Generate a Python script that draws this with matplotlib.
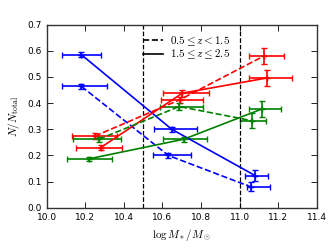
import numpy as np
import matplotlib.pyplot as plt

plt.rcParams["mathtext.fontset"] = "cm"
plt.rcParams["font.size"] = 6.5
plt.rcParams["xtick.direction"] = "in"
plt.rcParams["ytick.direction"] = "in"
plt.rcParams["xtick.top"] = True
plt.rcParams["ytick.right"] = True

# low-z sample (dashed) and high-z sample (solid)
blue_lo_x = [10.18, 10.63, 11.057]
blue_lo_y = [0.464, 0.200, 0.080]
blue_lo_xl = [0.10, 0.08, 0.021]
blue_lo_xh = [0.13, 0.12, 0.10]
blue_lo_ye = [0.010, 0.010, 0.018]

blue_hi_x = [10.18, 10.648, 11.08]
blue_hi_y = [0.585, 0.300, 0.123]
blue_hi_xl = [0.10, 0.09, 0.053]
blue_hi_xh = [0.10, 0.132, 0.068]
blue_hi_ye = [0.010, 0.010, 0.020]

red_lo_x = [10.25, 10.69, 11.128]
red_lo_y = [0.274, 0.413, 0.581]
red_lo_xl = [0.12, 0.10, 0.08]
red_lo_xh = [0.116, 0.12, 0.10]
red_lo_ye = [0.010, 0.012, 0.030]

red_hi_x = [10.28, 10.703, 11.14]
red_hi_y = [0.230, 0.438, 0.496]
red_hi_xl = [0.13, 0.10, 0.09]
red_hi_xh = [0.11, 0.14, 0.13]
red_hi_ye = [0.010, 0.013, 0.032]

green_lo_x = [10.271, 10.687, 11.062]
green_lo_y = [0.262, 0.387, 0.333]
green_lo_xl = [0.133, 0.10, 0.062]
green_lo_xh = [0.114, 0.123, 0.074]
green_lo_ye = [0.010, 0.012, 0.030]

green_hi_x = [10.22, 10.711, 11.117]
green_hi_y = [0.187, 0.262, 0.378]
green_hi_xl = [0.113, 0.11, 0.07]
green_hi_xh = [0.117, 0.12, 0.10]
green_hi_ye = [0.008, 0.010, 0.032]

fig = plt.figure(figsize=(3.3, 2.48), dpi=100)
ax = fig.add_axes([0.1415, 0.1625, 0.8185, 0.738])

series = [
    (blue_lo_x, blue_lo_y, blue_lo_xl, blue_lo_xh, blue_lo_ye, "b", "--"),
    (blue_hi_x, blue_hi_y, blue_hi_xl, blue_hi_xh, blue_hi_ye, "b", "-"),
    (red_lo_x, red_lo_y, red_lo_xl, red_lo_xh, red_lo_ye, "r", "--"),
    (red_hi_x, red_hi_y, red_hi_xl, red_hi_xh, red_hi_ye, "r", "-"),
    (green_lo_x, green_lo_y, green_lo_xl, green_lo_xh, green_lo_ye, "g", "--"),
    (green_hi_x, green_hi_y, green_hi_xl, green_hi_xh, green_hi_ye, "g", "-"),
]
for x, y, xl, xh, ye, c, ls in series:
    eb = ax.errorbar(x, y, xerr=[xl, xh], yerr=ye, color=c, ls=ls, lw=1.2,
                     elinewidth=1.2, capsize=2, capthick=1, marker="+",
                     ms=4, mew=1)
    eb[-1][0].set_linestyle("-")
    eb[-1][1].set_linestyle("-")

ax.axvline(10.5, color="k", ls="--", lw=0.9)
ax.axvline(11.0, color="k", ls="--", lw=0.9)

ax.plot([], [], "k--", lw=1.2, label=r"$0.5 \leq z < 1.5$")
ax.plot([], [], "k-", lw=1.2, label=r"$1.5 \leq z \leq 2.5$")
ax.legend(loc="upper left", bbox_to_anchor=(0.32, 1.0), frameon=False,
          fontsize=8, handlelength=1.8, handletextpad=0.6, labelspacing=0.0)

ax.set_xlim(10.0, 11.4)
ax.set_ylim(0.0, 0.7)
ax.set_xticks(np.arange(10.0, 11.41, 0.2))
ax.set_yticks(np.arange(0.0, 0.71, 0.1))
ax.tick_params(length=4, width=0.6)
for s in ax.spines.values():
    s.set_linewidth(1.0)
    s.set_color("0.2")
ax.set_xlabel(r"$\log M_*/M_\odot$", fontsize=8)
ax.set_ylabel(r"$N/N_{\rm total}$", fontsize=8)

plt.savefig("out.png", dpi=100)
